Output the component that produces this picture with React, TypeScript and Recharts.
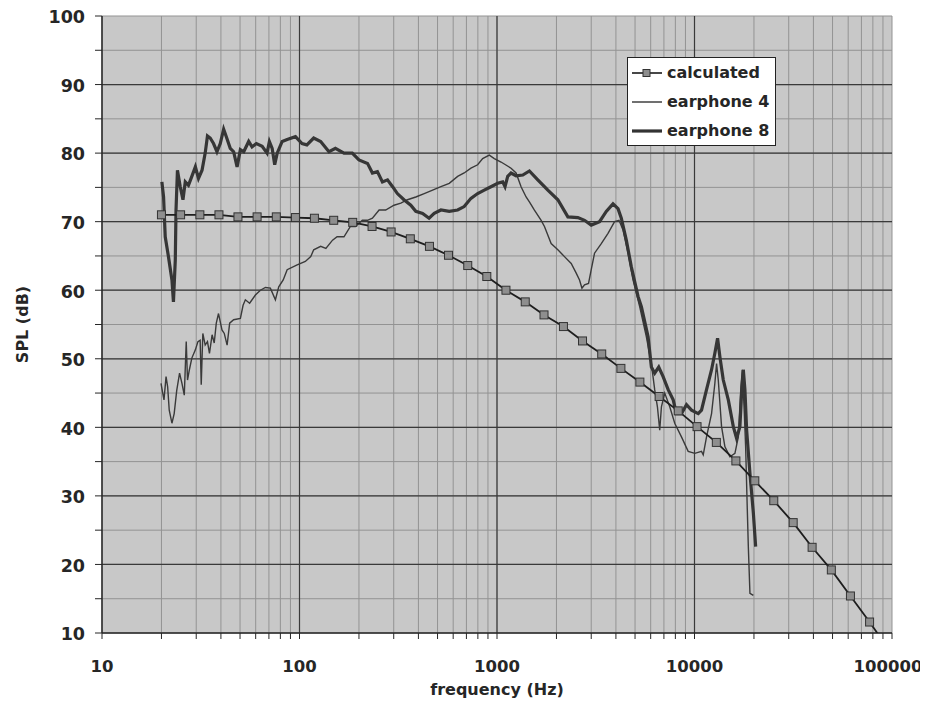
import React from 'react';
import { LineChart, Line, XAxis, YAxis, CartesianGrid, ReferenceLine, Legend } from 'recharts';

// axis ticks
const DECADES = [10, 100, 1000, 10000, 100000];
const MINOR_STEPS = [1, 2, 3, 4, 5, 6, 7, 8, 9];
const X_TICKS = [...DECADES.slice(0, -1).flatMap((d) => MINOR_STEPS.map((m) => d * m)), 100000];
const X_MAJOR = [100, 1000, 10000];
const Y_TICKS = [10, 15, 20, 25, 30, 35, 40, 45, 50, 55, 60, 65, 70, 75, 80, 85, 90, 95, 100];
const Y_LABELS = [10, 20, 30, 40, 50, 60, 70, 80, 90, 100];
const Y_MAJOR = [20, 30, 40, 50, 60, 70, 80, 90];

// [frequency Hz, SPL dB]
const calculated: [number, number][] = [
  [20, 71.0], [25, 71.0], [31.3, 71.0], [39.1, 71.0], [48.8, 70.7], [61, 70.7], [76.3, 70.7],
  [95.4, 70.6], [119, 70.5], [149, 70.2], [186, 69.9], [233, 69.3], [291, 68.5], [364, 67.5],
  [455, 66.4], [568, 65.1], [711, 63.6], [888, 62.0], [1110, 60.0], [1390, 58.3], [1730, 56.4],
  [2170, 54.7], [2710, 52.6], [3390, 50.7], [4240, 48.6], [5290, 46.6], [6620, 44.5], [8270, 42.4],
  [10300, 40.1], [12900, 37.8], [16200, 35.1], [20200, 32.2], [25200, 29.3], [31600, 26.1],
  [39400, 22.5], [49300, 19.2], [61600, 15.4], [77000, 11.6], [96300, 7.6],
];

const earphone4: [number, number][] = [
  [19.9, 46.4], [20.3, 45.0], [20.6, 44.0], [21.1, 47.4], [21.5, 45.9], [21.9, 42.5], [22.6, 40.6],
  [23.2, 42.0], [23.9, 45.4], [24.7, 47.9], [25.4, 46.4], [26.1, 44.7], [26.7, 52.5], [27.1, 46.9],
  [27.7, 48.4], [28.5, 50.1], [29.7, 51.3], [30.6, 52.5], [31.4, 52.7], [31.8, 46.2], [32.4, 53.7],
  [33.3, 52.0], [34.2, 52.5], [35.0, 50.8], [36.1, 53.5], [37.0, 52.3], [37.9, 55.2], [38.9, 56.6],
  [40.5, 54.2], [41.6, 53.7], [43.0, 52.0], [44.3, 55.2], [46.4, 55.7], [50.2, 55.9], [51.8, 57.8],
  [53.2, 58.6], [55.9, 58.1], [59.8, 59.3], [63.4, 60.0], [67.2, 60.4], [71.2, 60.3], [75.5, 58.6],
  [78.5, 60.5], [82.7, 61.5], [86.6, 63.0], [97.3, 63.7], [107, 64.2], [114, 64.9], [118, 65.9],
  [128, 66.4], [136, 66.1], [147, 67.3], [155, 67.8], [168, 67.8], [181, 69.3], [192, 69.3],
  [208, 70.2], [221, 70.2], [234, 70.5], [253, 71.7], [273, 71.7], [301, 72.4], [326, 72.7],
  [352, 73.2], [388, 73.6], [428, 74.1], [472, 74.6], [520, 75.1], [573, 75.6], [632, 76.6],
  [682, 77.1], [738, 77.8], [798, 78.3], [846, 79.2], [914, 79.7], [969, 79.2], [1048, 78.7],
  [1178, 77.8], [1249, 77.1], [1324, 75.1], [1404, 73.6], [1459, 72.9], [1547, 71.7], [1673, 70.2],
  [1739, 69.3], [1880, 66.8], [2033, 65.9], [2196, 64.9], [2375, 63.9], [2518, 62.5], [2617, 61.5],
  [2692, 60.3], [2774, 60.8], [2907, 61.0], [3000, 63.0], [3118, 65.4], [3373, 66.8], [3648, 68.3],
  [3939, 70.0], [4148, 70.2], [4346, 68.8], [4608, 65.4], [4885, 61.5], [5277, 57.6], [5706, 53.2],
  [6048, 49.3], [6287, 45.5], [6490, 43.0], [6667, 39.6], [6800, 43.0], [7067, 45.0], [7493, 43.0],
  [7943, 40.6], [8590, 38.6], [9290, 36.5], [10035, 36.2], [10852, 36.5], [11071, 36.0],
  [11506, 38.6], [12200, 42.0], [12677, 46.4], [12935, 49.3], [13194, 46.9], [13710, 40.1],
  [14250, 37.2], [15110, 35.7], [16020, 36.2], [16670, 38.6], [17180, 45.9], [17470, 48.4],
  [17880, 42.0], [18150, 37.2], [18430, 29.9], [18730, 22.6], [19085, 15.8], [19862, 15.5],
];

const earphone8: [number, number][] = [
  [20.1, 75.8], [20.5, 73.6], [20.9, 67.8], [21.7, 64.9], [22.6, 61.5], [23.0, 58.3], [23.5, 64.4],
  [23.7, 71.7], [24.1, 77.5], [24.9, 75.1], [25.7, 73.2], [26.4, 75.8], [27.4, 75.3], [28.5, 76.6],
  [29.7, 78.0], [30.8, 76.3], [32.1, 77.5], [33.3, 80.0], [34.2, 82.5], [35.3, 82.2], [36.7, 81.4],
  [38.2, 80.2], [39.7, 81.4], [41.3, 83.5], [42.6, 82.4], [44.6, 80.7], [46.4, 80.2], [48.3, 78.0],
  [50.2, 80.5], [52.2, 80.2], [55.3, 81.7], [57.5, 80.9], [60.5, 81.4], [64.7, 81.0], [68.5, 80.0],
  [70.4, 81.7], [72.7, 80.7], [74.9, 78.3], [77.1, 80.0], [81.7, 81.7], [86.6, 82.0], [95.4, 82.4],
  [103, 81.4], [109, 81.2], [118, 82.2], [128, 81.7], [141, 80.2], [152, 80.7], [168, 80.0],
  [185, 80.0], [200, 79.0], [221, 78.5], [234, 77.1], [248, 77.3], [263, 75.8], [279, 76.1],
  [296, 75.1], [313, 74.1], [338, 73.2], [366, 72.4], [388, 71.5], [420, 71.2], [453, 70.5],
  [481, 71.2], [520, 71.7], [573, 71.5], [632, 71.7], [682, 72.2], [738, 73.4], [798, 74.1],
  [862, 74.6], [932, 75.1], [1008, 75.6], [1069, 75.8], [1098, 75.1], [1133, 76.6], [1178, 77.1],
  [1249, 76.7], [1351, 76.8], [1459, 77.4], [1609, 76.1], [1809, 74.6], [2033, 73.2], [2285, 70.7],
  [2568, 70.6], [2774, 70.2], [3000, 69.5], [3306, 70.0], [3575, 71.5], [3867, 72.6], [4100, 71.9],
  [4260, 70.5], [4516, 67.3], [4788, 63.4], [5178, 59.1], [5383, 57.6], [5821, 53.2], [6048, 48.8],
  [6287, 47.9], [6590, 48.8], [6936, 47.4], [7355, 45.5], [7799, 44.0], [8101, 42.0], [8590, 42.0],
  [9108, 43.3], [9656, 42.5], [10443, 42.0], [10852, 42.5], [11506, 45.5], [12200, 48.4],
  [12677, 50.8], [13088, 53.0], [13443, 50.3], [13987, 46.9], [14832, 44.0], [15723, 40.1],
  [16335, 38.4], [16977, 40.1], [17320, 45.0], [17667, 48.4], [18000, 45.5], [18365, 39.6],
  [19085, 33.3], [19862, 27.5], [20400, 22.6],
];

const toRows = (pts: [number, number][]) => pts.map(([f, spl]) => ({ f, spl }));

const FONT = '"DejaVu Sans", Verdana, sans-serif';
const INK = '#262626';

const XTick = (props: any) => {
  const { x, y, payload } = props;
  if (!DECADES.includes(payload.value)) return <g />;
  // last label sits a bit left of its tick, as in the original
  const dx = payload.value === 100000 ? -4 : 0;
  return (
    <text x={x + dx} y={y + 31} textAnchor="middle" fontFamily={FONT} fontWeight="bold" fontSize={16.5} fill={INK}>
      {payload.value}
    </text>
  );
};

const YTick = (props: any) => {
  const { x, y, payload } = props;
  if (!Y_LABELS.includes(payload.value)) return <g />;
  return (
    <text x={x - 8} y={y + 1} dy="0.36em" textAnchor="end" fontFamily={FONT} fontWeight="bold" fontSize={17.5} fill={INK}>
      {payload.value}
    </text>
  );
};

const SquareDot = (props: any) => {
  const { cx, cy, index } = props;
  if (cx == null || cy == null) return <g key={index} />;
  return <rect key={index} x={cx - 4} y={cy - 4} width={8} height={8} fill="#8e8e8e" stroke="#333" strokeWidth={1} />;
};

const LEGEND_ITEMS = [
  { name: 'calculated', width: 1.8, marker: true },
  { name: 'earphone 4', width: 1.4, marker: false },
  { name: 'earphone 8', width: 3.2, marker: false },
];

const LegendBox = () => (
  <div
    style={{
      border: '1px solid #222',
      background: '#fff',
      padding: '0 6px 0 4px',
      fontFamily: FONT,
      fontWeight: 'bold',
      fontSize: 16,
      color: INK,
    }}
  >
    {LEGEND_ITEMS.map((it) => (
      <div key={it.name} style={{ display: 'flex', alignItems: 'center', height: 29 }}>
        <svg width={30} height={12} style={{ marginRight: 5 }}>
          <line x1={0} y1={6} x2={30} y2={6} stroke="#333" strokeWidth={it.width} />
          {it.marker && <rect x={11} y={2.5} width={7} height={7} fill="#8e8e8e" stroke="#333" />}
        </svg>
        <span>{it.name}</span>
      </div>
    ))}
  </div>
);

const XLabel = (props: any) => {
  const vb = props.viewBox || { x: 94, y: 625, width: 790, height: 68 };
  return (
    <text x={vb.x + vb.width / 2} y={vb.y + 62} textAnchor="middle" fontFamily={FONT} fontWeight="bold" fontSize={16} fill={INK}>
      frequency (Hz)
    </text>
  );
};

const YLabel = (props: any) => {
  const vb = props.viewBox || { x: 0, y: 8, width: 94, height: 617 };
  const cx = 14;
  const cy = vb.y + vb.height / 2;
  return (
    <text
      x={cx}
      y={cy}
      transform={`rotate(-90, ${cx}, ${cy})`}
      textAnchor="middle"
      dominantBaseline="central"
      fontFamily={FONT}
      fontWeight="bold"
      fontSize={16}
      fill={INK}
    >
      SPL (dB)
    </text>
  );
};

export default function App() {
  return (
    <div style={{ fontFamily: FONT }}>
      <LineChart width={920} height={693} margin={{ top: 8, right: 36, left: 0, bottom: 0 }}>
        <CartesianGrid stroke="#939393" fill="#c8c8c8" />
        {X_MAJOR.map((v) => (
          <ReferenceLine key={`x${v}`} x={v} stroke="#3a3a3a" strokeWidth={1.2} />
        ))}
        {Y_MAJOR.map((v) => (
          <ReferenceLine key={`y${v}`} y={v} stroke="#3a3a3a" strokeWidth={1.2} />
        ))}
        <XAxis
          dataKey="f"
          type="number"
          scale="log"
          domain={[10, 100000]}
          ticks={X_TICKS}
          interval={0}
          allowDataOverflow
          tick={XTick}
          tickSize={6}
          tickLine={{ stroke: INK }}
          axisLine={{ stroke: INK, strokeWidth: 1.5 }}
          height={68}
          label={XLabel}
        />
        <YAxis
          type="number"
          domain={[10, 100]}
          ticks={Y_TICKS}
          interval={0}
          allowDataOverflow
          tick={YTick}
          tickSize={7}
          tickLine={{ stroke: INK }}
          axisLine={{ stroke: INK, strokeWidth: 1.5 }}
          width={94}
          label={YLabel}
        />
        <Legend
          layout="vertical"
          align="center"
          verticalAlign="middle"
          content={LegendBox}
          wrapperStyle={{ position: 'absolute', left: 619, top: 49, width: 'auto' }}
        />
        <Line
          data={toRows(earphone4)}
          dataKey="spl"
          name="earphone 4"
          type="linear"
          stroke="#3a3a3a"
          strokeWidth={1.4}
          dot={false}
          isAnimationActive={false}
        />
        <Line
          data={toRows(earphone8)}
          dataKey="spl"
          name="earphone 8"
          type="linear"
          stroke="#363636"
          strokeWidth={3.2}
          dot={false}
          isAnimationActive={false}
        />
        <Line
          data={toRows(calculated)}
          dataKey="spl"
          name="calculated"
          type="linear"
          stroke="#1e1e1e"
          strokeWidth={1.8}
          dot={SquareDot}
          isAnimationActive={false}
        />
      </LineChart>
    </div>
  );
}
